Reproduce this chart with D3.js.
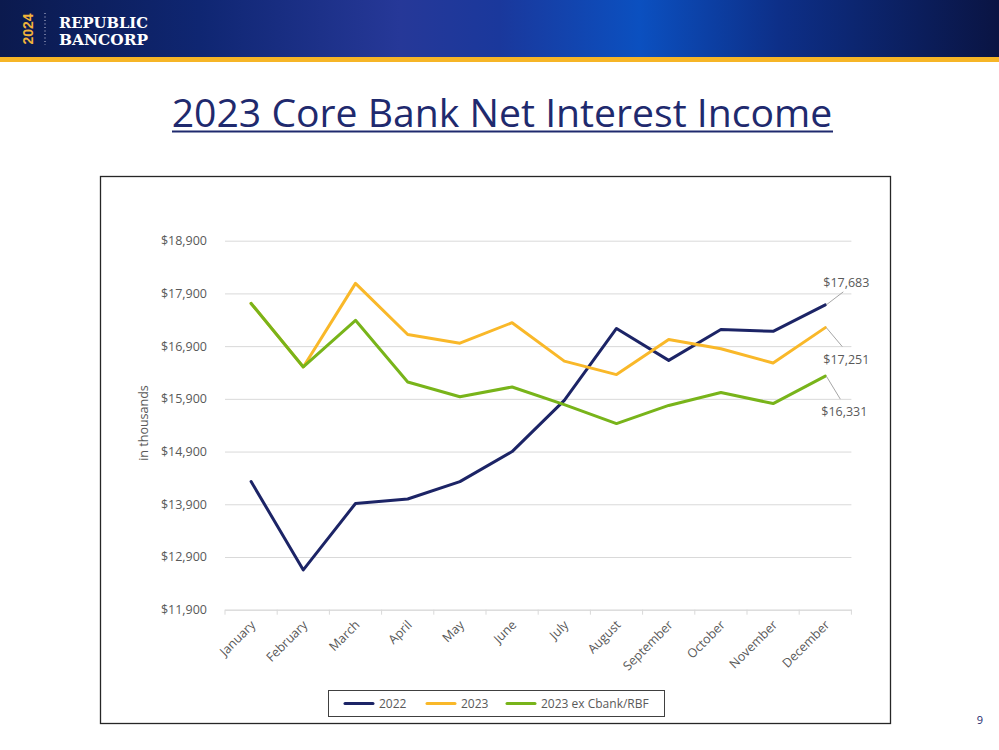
<!DOCTYPE html>
<html>
<head>
<meta charset="utf-8">
<script src="https://cdn.jsdelivr.net/npm/d3@7"></script>
<style>
  html, body { margin: 0; padding: 0; background: #ffffff; }
  svg { display: block; }
  text { font-family: "Open Sans", "Noto Sans", sans-serif; }
</style>
</head>
<body>
<svg id="chart" width="999" height="750"></svg>
<script>
// ---- data ----
const months = ["January","February","March","April","May","June","July","August","September","October","November","December"];
const values2022 = [14330, 12655, 13915, 14000, 14330, 14900, 15870, 17235, 16630, 17215, 17180, 17683];
const values2023 = [17710, 16505, 18090, 17120, 16955, 17345, 16615, 16360, 17025, 16850, 16580, 17251];
const values2023ex = [17710, 16505, 17390, 16220, 15940, 16125, 15790, 15430, 15775, 16020, 15810, 16331];
const seriesNames = ["2022", "2023", "2023 ex Cbank/RBF"];
const seriesColors = ["#1c2466", "#f9b829", "#78b41a"];
const yTicks = [11900, 12900, 13900, 14900, 15900, 16900, 17900, 18900];
const titleText = "2023 Core Bank Net Interest Income";
const yAxisTitle = "in thousands";
const logoLines = ["REPUBLIC", "BANCORP"];
const logoYear = "2024";
const pageNumber = "9";

const svg = d3.select("#chart");

// ---- header ----
const defs = svg.append("defs");
const grad = defs.append("linearGradient").attr("id", "hdr").attr("x1", "0").attr("x2", "1").attr("y1", "0").attr("y2", "0");
[[0, "#0b1a4e"], [0.2, "#0f2672"], [0.40, "#263898"], [0.50, "#1a389c"], [0.64, "#0b50c0"], [0.78, "#0d2f88"], [1, "#0a1443"]]
  .forEach(([o, c]) => grad.append("stop").attr("offset", o).attr("stop-color", c));
svg.append("rect").attr("x", 0).attr("y", 0).attr("width", 999).attr("height", 57).attr("fill", "url(#hdr)");
svg.append("rect").attr("x", 0).attr("y", 57).attr("width", 999).attr("height", 5).attr("fill", "#f6b526");
svg.append("text").attr("transform", "translate(33,29) rotate(-90)")
  .attr("text-anchor", "middle").attr("fill", "#f2b33a")
  .style("font-family", "'Liberation Sans', Arial, sans-serif").style("font-weight", "bold").style("font-size", "14px")
  .text(logoYear);
svg.append("line").attr("x1", 45).attr("x2", 45).attr("y1", 13).attr("y2", 45)
  .attr("stroke", "#c9cbe0").attr("stroke-width", 1).attr("stroke-dasharray", "1,2.5");
logoLines.forEach((t, i) => {
  svg.append("text").attr("x", 59).attr("y", 27.5 + i * 17.2).attr("fill", "#ffffff")
    .style("font-family", "'DejaVu Serif Condensed', 'DejaVu Serif', 'Liberation Serif', serif")
    .style("font-weight", "bold").style("font-size", "14.6px")
    .attr("textLength", 89).attr("lengthAdjust", "spacingAndGlyphs")
    .text(t);
});

// ---- title ----
const title = svg.append("text").attr("x", 502).attr("y", 127).attr("text-anchor", "middle")
  .attr("fill", "#1f2a6e").style("font-size", "40px").text(titleText);
const tw = title.node().getComputedTextLength();
const fs = 40 * 661 / tw;
title.style("font-size", fs + "px");
svg.append("rect").attr("x", 172).attr("y", 130.5).attr("width", 661).attr("height", 2).attr("fill", "#1f2a6e");

// ---- chart frame ----
svg.append("rect").attr("x", 100.5).attr("y", 176.5).attr("width", 790).attr("height", 547)
  .attr("fill", "#ffffff").attr("stroke", "#262626").attr("stroke-width", 1.3);

// ---- scales ----
const x = d3.scaleBand().domain(months).range([225, 851.4]).paddingInner(0).paddingOuter(0);
const y = d3.scaleLinear().domain([11900, 18900]).range([609.7, 240.7]);
const cx = m => x(m) + x.bandwidth() / 2;

// gridlines + y labels
const yAxis = d3.axisLeft(y).tickValues(yTicks)
  .tickFormat(d => "$" + d3.format(",")(d))
  .tickSize(-(851.4 - 225)).tickPadding(18);
const gy = svg.append("g").attr("transform", "translate(225,0)").call(yAxis);
gy.select(".domain").remove();
gy.selectAll(".tick line").attr("stroke", "#d9d9d9").attr("stroke-width", 1);
gy.selectAll(".tick text").attr("fill", "#595959").style("font-size", "12.5px")
  .style("font-family", "'Open Sans', sans-serif");

// x axis
const xAxis = d3.axisBottom(x).tickSize(0).tickPadding(0);
const gx = svg.append("g").attr("transform", "translate(0,609.7)").call(xAxis);
gx.select(".domain").attr("stroke", "#d9d9d9");
gx.selectAll(".tick text")
  .attr("text-anchor", "end").attr("fill", "#595959")
  .style("font-size", "12.5px").style("font-family", "'Open Sans', sans-serif")
  .attr("dy", null).attr("y", 0)
  .attr("transform", "translate(5,16) rotate(-45)");
// boundary tick marks
const edges = months.map(m => x(m)).concat([x(months[months.length - 1]) + x.bandwidth()]);
gx.selectAll("line.edge").data(edges).enter().append("line").attr("class", "edge")
  .attr("x1", d => d).attr("x2", d => d).attr("y1", 0).attr("y2", 5)
  .attr("stroke", "#d9d9d9").attr("stroke-width", 1);

// y axis title
svg.append("text").attr("transform", "translate(148,423) rotate(-90)")
  .attr("text-anchor", "middle").attr("fill", "#595959").style("font-size", "12.5px").text(yAxisTitle);

// ---- lines ----
const allSeries = [values2022, values2023, values2023ex];
const line = d3.line().x((d, i) => cx(months[i])).y(d => y(d));
allSeries.forEach((vals, k) => {
  svg.append("path").datum(vals).attr("d", line)
    .attr("fill", "none").attr("stroke", seriesColors[k]).attr("stroke-width", 3)
    .attr("stroke-linejoin", "round").attr("stroke-linecap", "round");
});

// ---- data labels with leader lines ----
const last = months.length - 1;
const labelOffsets = [
  { dx: 18, dy: -13, tx: 21, ty: -22 },
  { dx: 17, dy: 19, tx: 21, ty: 32 },
  { dx: 15, dy: 23, tx: 19, ty: 35 }
];
allSeries.forEach((vals, k) => {
  const px = cx(months[last]), py = y(vals[last]);
  const o = labelOffsets[k];
  svg.append("line").attr("x1", px + 1).attr("y1", py).attr("x2", px + o.dx).attr("y2", py + o.dy)
    .attr("stroke", "#a6a6a6").attr("stroke-width", 1);
  svg.append("text").attr("x", px + o.tx).attr("y", py + o.ty).attr("text-anchor", "middle")
    .attr("dominant-baseline", "central").attr("fill", "#595959").style("font-size", "12.5px")
    .text("$" + d3.format(",")(vals[last]));
});

// ---- legend ----
svg.append("rect").attr("x", 328.5).attr("y", 690.5).attr("width", 336).attr("height", 26)
  .attr("fill", "#ffffff").attr("stroke", "#404040").attr("stroke-width", 1);
const legendX = [345, 427, 507];
seriesNames.forEach((name, k) => {
  svg.append("line").attr("x1", legendX[k]).attr("x2", legendX[k] + 28).attr("y1", 703.5).attr("y2", 703.5)
    .attr("stroke", seriesColors[k]).attr("stroke-width", 3).attr("stroke-linecap", "round");
  svg.append("text").attr("x", legendX[k] + 34).attr("y", 703.5).attr("dominant-baseline", "central")
    .attr("fill", "#595959").style("font-size", "12px").text(name);
});

// ---- page number ----
svg.append("text").attr("x", 980).attr("y", 724).attr("text-anchor", "middle")
  .attr("fill", "#1f2a6e").style("font-size", "11px").text(pageNumber);
</script>
</body>
</html>
